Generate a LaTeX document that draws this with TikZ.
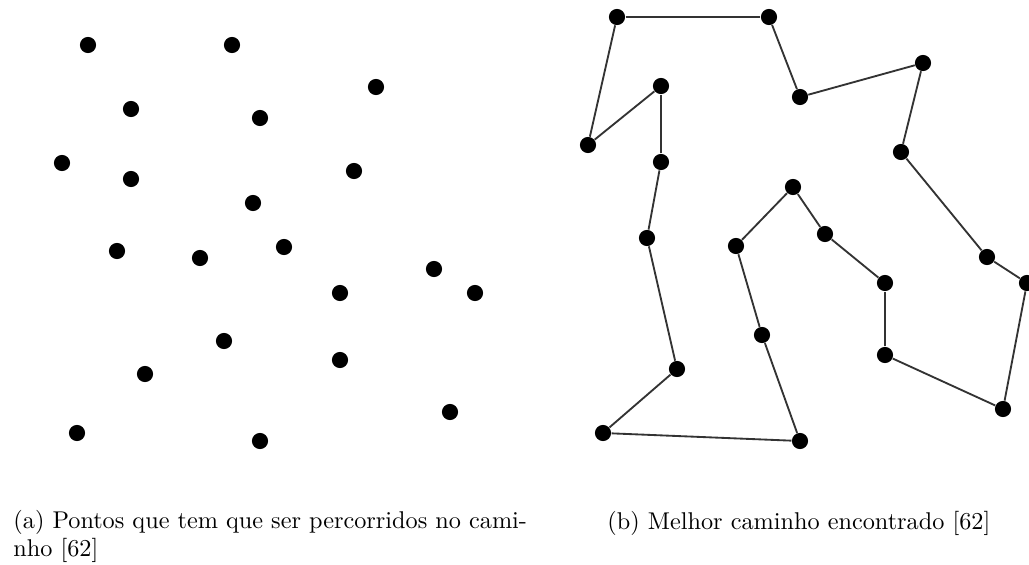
\documentclass[tikz,border=0pt]{standalone}
\usepackage{tikz}

\tikzset{
  ponto/.style={circle,fill=black,inner sep=0pt,minimum size=7pt},
  rota/.style={draw=black!80,line width=0.8pt},
  legenda/.style={inner sep=0pt,anchor=base west,align=left,
    font=\fontsize{10.5pt}{11.7pt}\selectfont}
}

\begin{document}
\begin{tikzpicture}[x=0.433pt,y=-0.433pt]
\useasboundingbox (0,0) rectangle (1029,564);

% (a) pontos soltos
\foreach \n/\p in {1/{88,45},2/{232,45},3/{376,87},4/{131,109},5/{260,118},
  6/{62,163},7/{131,179},8/{354,171},9/{253,203},10/{117,251},11/{200,258},
  12/{284,247},13/{434,269},14/{340,293},15/{475,293},16/{224,341},
  17/{340,360},18/{145,374},19/{450,412},20/{77,433},21/{260,441}}
  \node[ponto] (a\n) at (\p) {};

% (b) pontos na ordem do caminho
\foreach \n/\p in {1/{617,17},2/{769,17},3/{800,97},4/{923,63},5/{901,152},
  6/{987,257},7/{1027,283},8/{1003,409},9/{885,355},10/{885,283},
  11/{825,234},12/{793,187},13/{736,246},14/{762,335},15/{800,441},
  16/{603,433},17/{677,369},18/{647,238},19/{661,162},20/{661,86},21/{588,145}}
  \node[ponto] (b\n) at (\p) {};

% caminho fechado, do ponto 21 volta ao 1
\foreach \i [evaluate=\i as \j using {int(mod(\i,21)+1)}] in {1,...,21}
  \draw[rota] (b\i) -- (b\j);

% legendas (base = ultima linha)
\node[legenda] (capa) at (13,556) {(a) Pontos que tem que ser percorridos no cami-\\nho [62]};
\node[legenda] (capb) at (607,529) {(b) Melhor caminho encontrado [62]};
\end{tikzpicture}
\end{document}
